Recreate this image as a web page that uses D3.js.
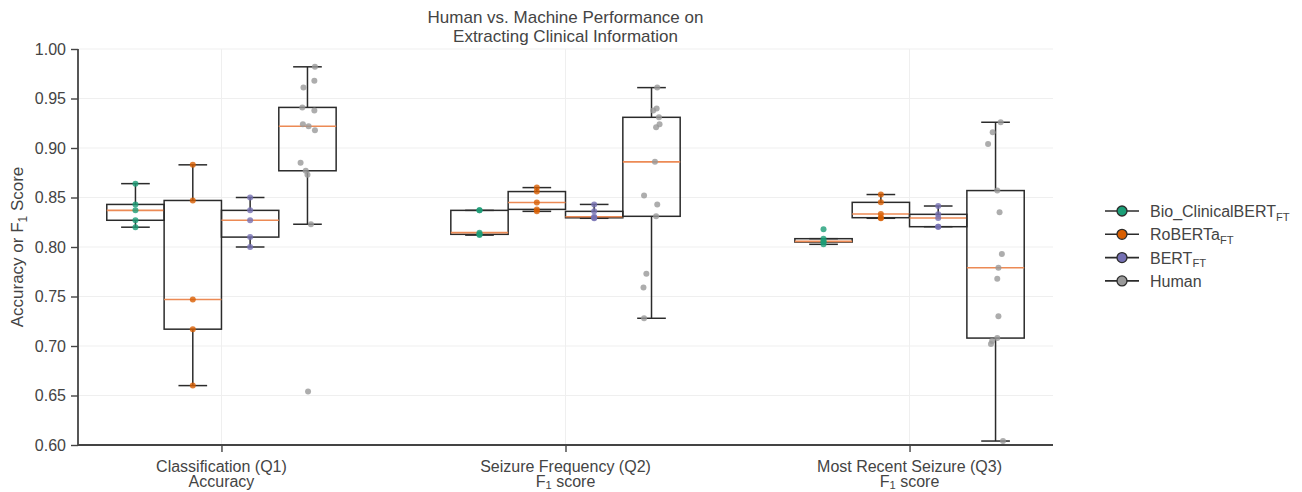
<!DOCTYPE html>
<html>
<head>
<meta charset="utf-8">
<script src="https://cdn.jsdelivr.net/npm/d3@7"></script>
<style>
  body { margin: 0; background: #fff; }
  svg { font-family: "Liberation Sans", Arial, sans-serif; }
</style>
</head>
<body>
<svg id="chart" width="1302" height="492"></svg>
<script>
// categories on the x axis (two lines each, <sub> marks a subscript)
const categories = ["Q1", "Q2", "Q3"];
const catLine1 = ["Classification (Q1)", "Seizure Frequency (Q2)", "Most Recent Seizure (Q3)"];
const catLine2 = ["Accuracy", "F<sub>1</sub> score", "F<sub>1</sub> score"];

const seriesNames = ["Bio_ClinicalBERT<sub>FT</sub>", "RoBERTa<sub>FT</sub>", "BERT<sub>FT</sub>", "Human"];
const seriesColors = ["#1b9e77", "#d95f02", "#7570b3", "#999999"];

// scores per category
const bioScores = [
  [0.864, 0.843, 0.837, 0.827, 0.820],
  [0.837, 0.837, 0.8145, 0.8128, 0.812],
  [0.818, 0.8084, 0.8057, 0.805, 0.8027]
];
const robertaScores = [
  [0.883, 0.847, 0.747, 0.717, 0.660],
  [0.860, 0.856, 0.845, 0.838, 0.836],
  [0.853, 0.8451, 0.8333, 0.8296, 0.829]
];
const bertScores = [
  [0.850, 0.837, 0.827, 0.810, 0.800],
  [0.843, 0.836, 0.8305, 0.8295, 0.829],
  [0.8414, 0.833, 0.8293, 0.8205, 0.8205]
];
const humanScores = [
  [0.982, 0.968, 0.961, 0.941, 0.938, 0.924, 0.922, 0.918, 0.885, 0.877, 0.873, 0.823, 0.654],
  [0.961, 0.940, 0.938, 0.931, 0.924, 0.921, 0.886, 0.852, 0.843, 0.831, 0.773, 0.759, 0.728],
  [0.926, 0.916, 0.904, 0.857, 0.835, 0.793, 0.779, 0.768, 0.730, 0.708, 0.705, 0.702, 0.604]
];
// horizontal strip jitter of the human points, as a fraction of one box width
const humanJitter = [
  [0.13, 0.12, -0.07, -0.09, 0.12, -0.08, 0.02, 0.13, -0.12, -0.03, 0.0, 0.06, 0.01],
  [0.10, 0.09, 0.03, 0.13, 0.14, 0.08, 0.06, -0.13, 0.10, 0.08, -0.09, -0.14, -0.13],
  [0.09, -0.05, -0.13, 0.03, 0.07, 0.11, 0.05, 0.03, 0.05, 0.03, -0.06, -0.08, 0.13]
];
const allScores = [bioScores, robertaScores, bertScores, humanScores];

const yTicks = [0.60, 0.65, 0.70, 0.75, 0.80, 0.85, 0.90, 0.95, 1.00];

const svg = d3.select("#chart");
const mLeft = 78, mRight = 1053, mTop = 49, mBottom = 445;
const ink = "#444";

const x = d3.scalePoint().domain(categories).range([mLeft, mRight]).padding(0.417);
const y = d3.scaleLinear().domain([0.6, 1.0]).range([mBottom, mTop]);
const boxW = x.step() / 6;
const offset = (k) => (k - 1.5) * boxW;

// writes a label with <sub> parts into a text element
function rich(sel, str, size, shift = 0.22) {
  let back = 0;
  str.split(/(<sub>.*?<\/sub>)/).filter(s => s).forEach(part => {
    const m = part.match(/<sub>(.*?)<\/sub>/);
    if (m) {
      sel.append("tspan").attr("font-size", size * 0.7).attr("dy", size * shift).text(m[1]);
      back = -size * shift;
    } else {
      sel.append("tspan").attr("dy", back || null).text(part);
      back = 0;
    }
  });
}

// grid
const grid = svg.append("g").attr("stroke", "#efefef").attr("stroke-width", 1);
grid.selectAll("line.h").data(yTicks).join("line")
  .attr("x1", mLeft).attr("x2", mRight).attr("y1", d => y(d)).attr("y2", d => y(d));
grid.selectAll("line.v").data(categories).join("line")
  .attr("x1", d => x(d)).attr("x2", d => x(d)).attr("y1", mTop).attr("y2", mBottom);

// axes
const yAxis = svg.append("g").attr("transform", `translate(${mLeft},0)`)
  .call(d3.axisLeft(y).tickValues(yTicks).tickFormat(d3.format(".2f")).tickSize(7).tickPadding(5));
const xAxis = svg.append("g").attr("transform", `translate(0,${mBottom})`)
  .call(d3.axisBottom(x).tickSize(7).tickFormat(() => ""));
xAxis.selectAll(".tick text").remove();
[yAxis, xAxis].forEach(a => {
  a.select(".domain").attr("stroke", ink).attr("stroke-width", 1.8);
  a.selectAll(".tick line").attr("stroke", ink).attr("stroke-width", 1.4);
  a.selectAll("text").attr("fill", ink).attr("font-size", 16);
  a.attr("font-family", null);
});
yAxis.select(".domain").attr("d", `M0,${mTop}V${mBottom}`);
xAxis.select(".domain").attr("d", `M${mLeft},0H${mRight}`);

categories.forEach((c, i) => {
  const t1 = svg.append("text").attr("x", x(c)).attr("y", mBottom + 27)
    .attr("text-anchor", "middle").attr("fill", ink).attr("font-size", 16);
  rich(t1, catLine1[i], 16);
  const t2 = svg.append("text").attr("x", x(c)).attr("y", mBottom + 42)
    .attr("text-anchor", "middle").attr("fill", ink).attr("font-size", 16);
  rich(t2, catLine2[i], 16, 0.14);
});

// boxes
function boxStats(vals) {
  const s = vals.slice().sort(d3.ascending);
  const q1 = d3.quantileSorted(s, 0.25), med = d3.quantileSorted(s, 0.5), q3 = d3.quantileSorted(s, 0.75);
  const iqr = q3 - q1;
  const lo = d3.min(s.filter(v => v >= q1 - 1.5 * iqr));
  const hi = d3.max(s.filter(v => v <= q3 + 1.5 * iqr));
  return { q1, med, q3, lo, hi };
}

const boxes = svg.append("g");
const dots = svg.append("g");
allScores.forEach((series, k) => {
  series.forEach((vals, i) => {
    const cx = x(categories[i]) + offset(k);
    const st = boxStats(vals);
    const g = boxes.append("g").attr("stroke", "#2b2b2b").attr("stroke-width", 1.5).attr("fill", "none");
    g.append("line").attr("x1", cx).attr("x2", cx).attr("y1", y(st.q3)).attr("y2", y(st.hi));
    g.append("line").attr("x1", cx).attr("x2", cx).attr("y1", y(st.q1)).attr("y2", y(st.lo));
    g.append("line").attr("x1", cx - boxW / 4).attr("x2", cx + boxW / 4).attr("y1", y(st.hi)).attr("y2", y(st.hi));
    g.append("line").attr("x1", cx - boxW / 4).attr("x2", cx + boxW / 4).attr("y1", y(st.lo)).attr("y2", y(st.lo));
    g.append("rect").attr("x", cx - boxW / 2).attr("width", boxW)
      .attr("y", y(st.q3)).attr("height", Math.max(0.5, y(st.q1) - y(st.q3)));
    g.append("line").attr("stroke", "#ec8a55").attr("stroke-width", 1.6)
      .attr("x1", cx - boxW / 2).attr("x2", cx + boxW / 2).attr("y1", y(st.med)).attr("y2", y(st.med));

    dots.selectAll(null).data(vals).join("circle")
      .attr("cx", (d, j) => cx + (k === 3 ? humanJitter[i][j] * boxW : 0))
      .attr("cy", d => y(d))
      .attr("r", 3)
      .attr("fill", seriesColors[k])
      .attr("fill-opacity", 0.8);
  });
});

// title and y label
const title = svg.append("text").attr("text-anchor", "middle").attr("fill", ink).attr("font-size", 17);
title.append("tspan").attr("x", (mLeft + mRight) / 2).attr("y", 23).text("Human vs. Machine Performance on");
title.append("tspan").attr("x", (mLeft + mRight) / 2).attr("y", 42).text("Extracting Clinical Information");

const yl = svg.append("text").attr("text-anchor", "middle").attr("fill", ink).attr("font-size", 17)
  .attr("transform", `translate(23,${(mTop + mBottom) / 2}) rotate(-90)`);
rich(yl, "Accuracy or F<sub>1</sub> Score", 17);

// legend
const leg = svg.append("g").attr("transform", "translate(1105,211)");
seriesNames.forEach((n, k) => {
  const r = leg.append("g").attr("transform", `translate(0,${k * 23.3})`);
  r.append("line").attr("x1", 0).attr("x2", 34).attr("stroke", "#2b2b2b").attr("stroke-width", 1.6);
  r.append("circle").attr("cx", 17).attr("r", 5).attr("fill", seriesColors[k])
    .attr("stroke", "#2b2b2b").attr("stroke-width", 1.3);
  const t = r.append("text").attr("x", 45).attr("y", 6).attr("fill", ink).attr("font-size", 16);
  rich(t, n, 16);
});
</script>
</body>
</html>
